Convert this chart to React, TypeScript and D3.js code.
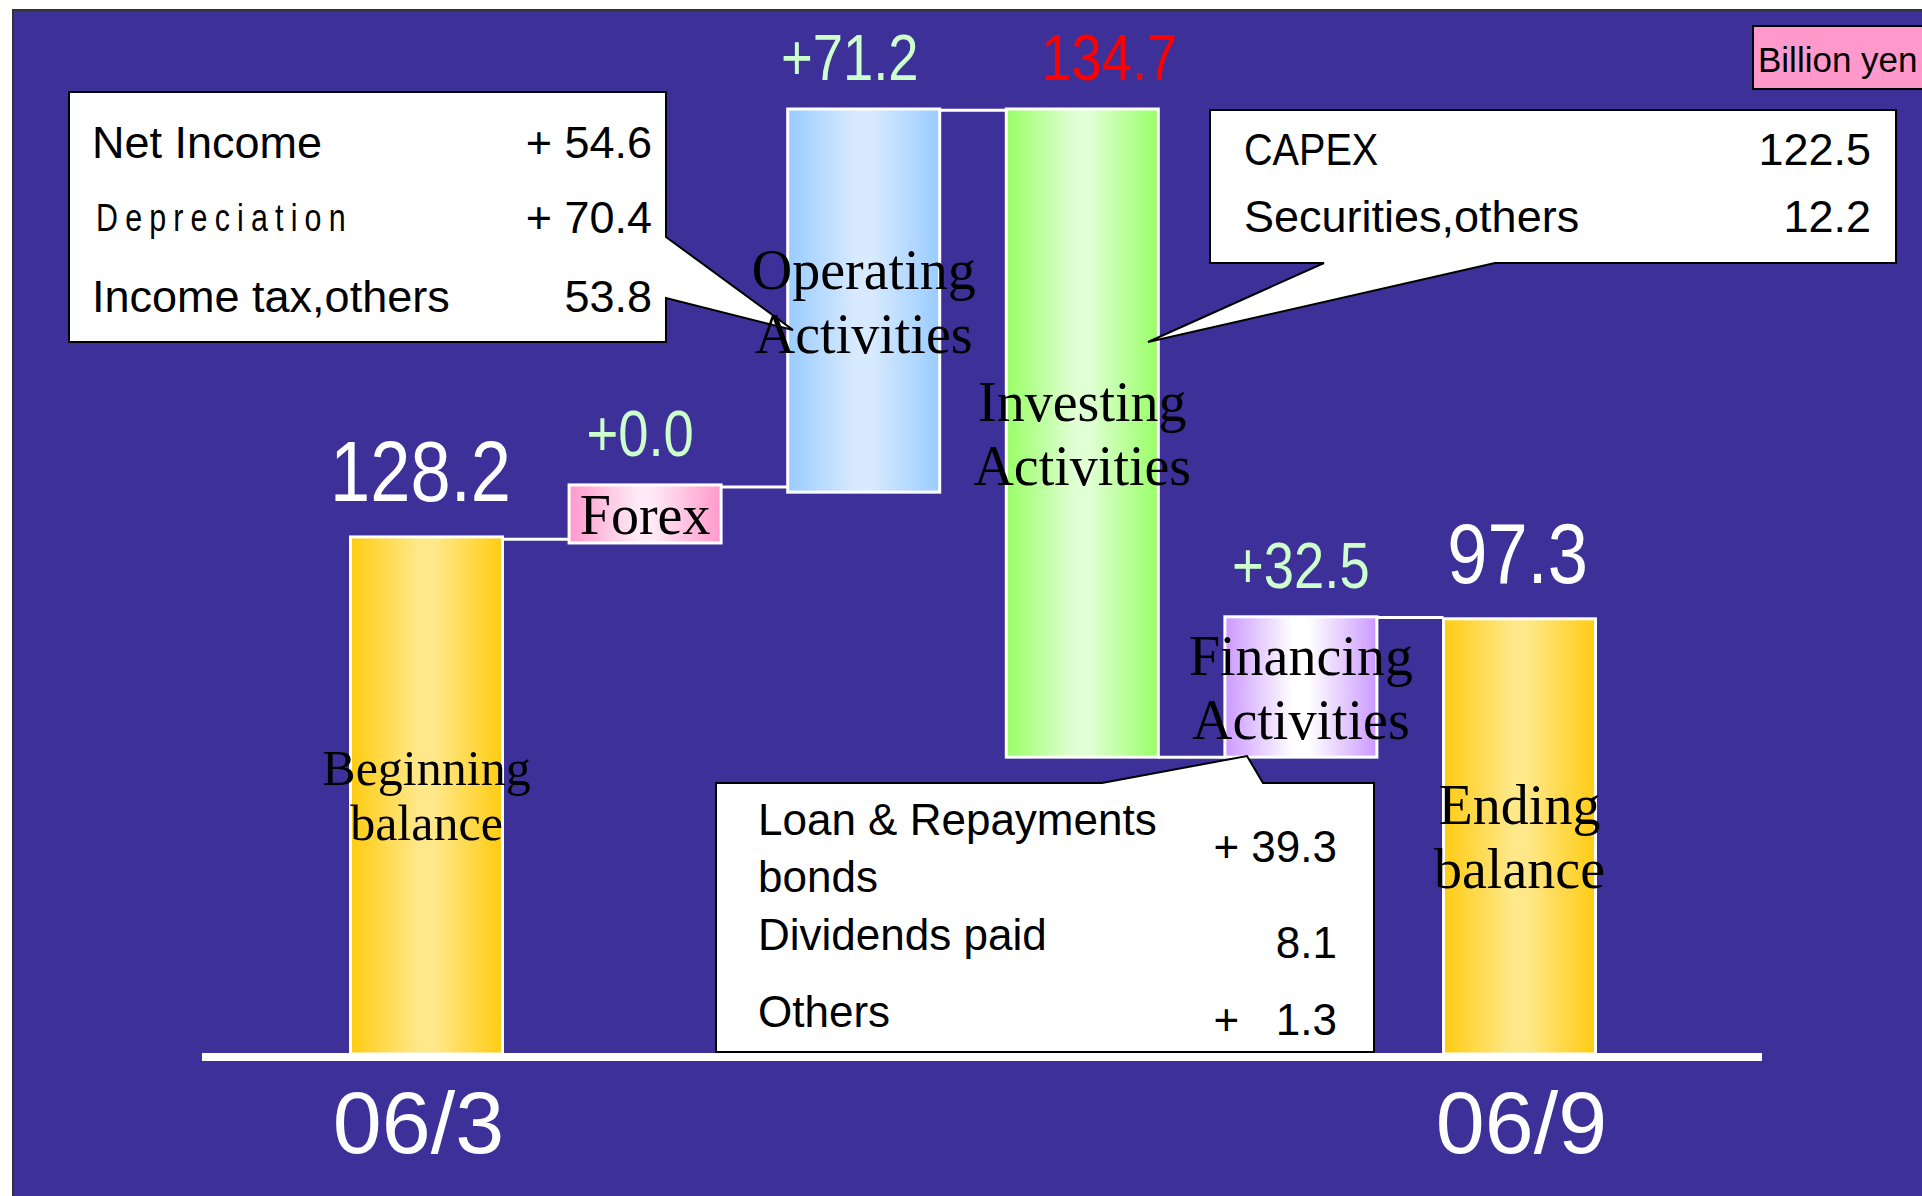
import React from "react";
import * as d3 from "d3";

// ---- data ----
const steps = ["begin", "forex", "operating", "investing", "financing", "end"];
const stepLabels = [
  ["Beginning", "balance"],
  ["Forex"],
  ["Operating", "Activities"],
  ["Investing", "Activities"],
  ["Financing", "Activities"],
  ["Ending", "balance"],
];
const valueLabels = ["128.2", "+0.0", "+71.2", "134.7", "+32.5", "97.3"];
// bar extents as drawn on the slide (billion yen levels)
const barLow = [0, 126.7, 139.3, 73.6, 73.6, 0];
const barHigh = [128.2, 141.1, 234.3, 234.3, 108.4, 107.9];
// connector levels between consecutive bars
const connectorLevels = [127.6, 140.6, 234.0, 73.6, 108.2];
const periodLabels = ["06/3", "06/9"];

const operatingRows = [
  ["Net Income", "+ 54.6"],
  ["Depreciation", "+ 70.4"],
  ["Income tax,others", "53.8"],
];
const investingRows = [
  ["CAPEX", "122.5"],
  ["Securities,others", "12.2"],
];
const financingRows = [
  ["Loan & Repayments", "bonds", "+ 39.3"],
  ["Dividends paid", "", "8.1"],
  ["Others", "", "+   1.3"],
];

// ---- styling ----
const BG = "#3D3199";
const SANS = "'Liberation Sans', Arial, sans-serif";
const SERIF = "'Liberation Serif', 'Times New Roman', serif";
const gradients = [
  { id: "gBegin", edge: "#FFCC11", mid: "#FFE88A" },
  { id: "gForex", edge: "#FF99CC", mid: "#FFEAF5" },
  { id: "gOper", edge: "#99CCFF", mid: "#D8EAFF" },
  { id: "gInv", edge: "#99FF66", mid: "#E0FFD4" },
  { id: "gFin", edge: "#CC99FF", mid: "#FFFFFF" },
  { id: "gEnd", edge: "#FFCC11", mid: "#FFE88A" },
];
const valueColors = ["#FFFFFF", "#CCFFCC", "#CCFFCC", "#FF0000", "#CCFFCC", "#FFFFFF"];
const valueSizes = [85, 64, 64, 64, 64, 85];
const valueDx = [-6, -5, -14, 27, 0, -2];

export default function App() {
  const W = 1922;
  const H = 1196;
  const baseY = 1054;
  const y = d3.scaleLinear().domain([0, 234.3]).range([baseY, 109]);
  const x = d3.scalePoint<string>().domain(steps).range([426.5, 1519.5]);
  const bw = 152;

  return (
    <svg
      width={W}
      height={H}
      style={{ position: "absolute", left: 0, top: 0, display: "block" }}
    >
      <defs>
        {gradients.map((g) => (
          <linearGradient key={g.id} id={g.id} x1="0" x2="1" y1="0" y2="0">
            <stop offset="0" stopColor={g.edge} />
            <stop offset="0.45" stopColor={g.mid} />
            <stop offset="0.55" stopColor={g.mid} />
            <stop offset="1" stopColor={g.edge} />
          </linearGradient>
        ))}
      </defs>
      <rect x={0} y={0} width={W} height={H} fill="#FFFFFF" />
      <rect x={13} y={10} width={W} height={H} fill={BG} stroke="#333" strokeWidth={2} />

      {/* connectors */}
      {connectorLevels.map((lv, i) => (
        <line
          key={"c" + i}
          x1={(x(steps[i]) as number) + bw / 2}
          x2={(x(steps[i + 1]) as number) - bw / 2}
          y1={y(lv)}
          y2={y(lv)}
          stroke="#FFFFFF"
          strokeWidth={3}
        />
      ))}

      {/* bars */}
      {steps.map((s, i) => (
        <rect
          key={s}
          x={(x(s) as number) - bw / 2}
          y={y(barHigh[i])}
          width={bw}
          height={y(barLow[i]) - y(barHigh[i])}
          fill={`url(#${gradients[i].id})`}
          stroke="#FFFFFF"
          strokeWidth={3}
        />
      ))}

      {/* baseline */}
      <line x1={202} x2={1762} y1={1057} y2={1057} stroke="#FFFFFF" strokeWidth={8} />

      {/* value labels */}
      {steps.map((s, i) => (
        <text
          key={"v" + s}
          transform={`translate(${(x(s) as number) + valueDx[i]},${y(barHigh[i]) - (i === 0 || i === 5 ? 36 : 29)}) scale(0.85,1)`}
          textAnchor="middle"
          fontFamily={SANS}
          fontSize={valueSizes[i]}
          fill={valueColors[i]}
        >
          {valueLabels[i]}
        </text>
      ))}

      {/* callout: operating */}
      <path
        d="M69,92 H666 V237 L793,330 L666,298 V342 H69 Z"
        fill="#FFFFFF"
        stroke="#000"
        strokeWidth={2}
        strokeLinejoin="miter"
      />
      {operatingRows.map((r, i) => {
        const by = [158, 231, 312][i];
        return (
          <g key={"o" + i} fontFamily={SANS} fill="#000">
            {i === 1 ? (
              <text
                x={0}
                y={0}
                fontSize={38}
                textLength={312}
                lengthAdjust="spacing"
                transform={`translate(96,${by}) scale(0.8,1)`}
              >
                {r[0]}
              </text>
            ) : (
              <text x={92} y={by} fontSize={45}>
                {r[0]}
              </text>
            )}
            <text x={652} y={i === 1 ? 233 : by} fontSize={45} textAnchor="end">
              {r[1]}
            </text>
          </g>
        );
      })}

      {/* callout: investing */}
      <path
        d="M1210,110 H1896 V263 H1495 L1148,342 L1324,263 H1210 Z"
        fill="#FFFFFF"
        stroke="#000"
        strokeWidth={2}
      />
      {investingRows.map((r, i) => {
        const by = [165, 232][i];
        return (
          <g key={"inv" + i} fontFamily={SANS} fill="#000" fontSize={45}>
            <text x={1244} y={by} transform={i === 0 ? `translate(${1244 * 0.12},0) scale(0.88,1)` : undefined}>
              {r[0]}
            </text>
            <text x={1871} y={by} textAnchor="end">
              {r[1]}
            </text>
          </g>
        );
      })}

      {/* callout: financing */}
      <path
        d="M716,783 H1102 L1247,756 L1263,783 H1374 V1052 H716 Z"
        fill="#FFFFFF"
        stroke="#000"
        strokeWidth={2}
      />
      {financingRows.map((r, i) => {
        const by = [835, 950, 1027][i];
        const vy = [862, 958, 1035][i];
        return (
          <g key={"f" + i} fontFamily={SANS} fill="#000" fontSize={44}>
            <text x={758} y={by}>
              {r[0]}
            </text>
            {r[1] ? (
              <text x={758} y={by + 57}>
                {r[1]}
              </text>
            ) : null}
            <text x={1337} y={vy} textAnchor="end" style={{ whiteSpace: "pre" }}>
              {r[2]}
            </text>
          </g>
        );
      })}

      {/* bar name labels */}
      {steps.map((s, i) => {
        const lines = stepLabels[i];
        const mid = (y(barHigh[i]) + y(barLow[i])) / 2;
        const cx = x(s) as number;
        if (lines.length === 1) {
          return (
            <text
              key={"n" + s}
              x={cx}
              y={mid + 20}
              textAnchor="middle"
              fontFamily={SERIF}
              fontSize={56}
              fill="#000"
            >
              {lines[0]}
            </text>
          );
        }
        const small = i === 0;
        const fs = small ? 50 : 56;
        const b1 = mid - (small ? 10 : 12);
        const lh = small ? 55 : 64;
        return (
          <g key={"n" + s} fontFamily={SERIF} fontSize={fs} fill="#000" textAnchor="middle">
            <text x={cx} y={b1}>
              {lines[0]}
            </text>
            <text x={cx} y={b1 + lh}>
              {lines[1]}
            </text>
          </g>
        );
      })}

      {/* period labels */}
      {[steps[0], steps[5]].map((s, i) => (
        <text
          key={"p" + i}
          x={(x(s) as number) + (i === 0 ? -8 : 2)}
          y={1153}
          textAnchor="middle"
          fontFamily={SANS}
          fontSize={88}
          fill="#FFFFFF"
        >
          {periodLabels[i]}
        </text>
      ))}

      {/* unit box */}
      <rect x={1753} y={26} width={180} height={63} fill="#FF99CC" stroke="#000" strokeWidth={2} />
      <text x={1758} y={72} fontFamily={SANS} fontSize={35} fill="#000">
        Billion yen
      </text>
    </svg>
  );
}
